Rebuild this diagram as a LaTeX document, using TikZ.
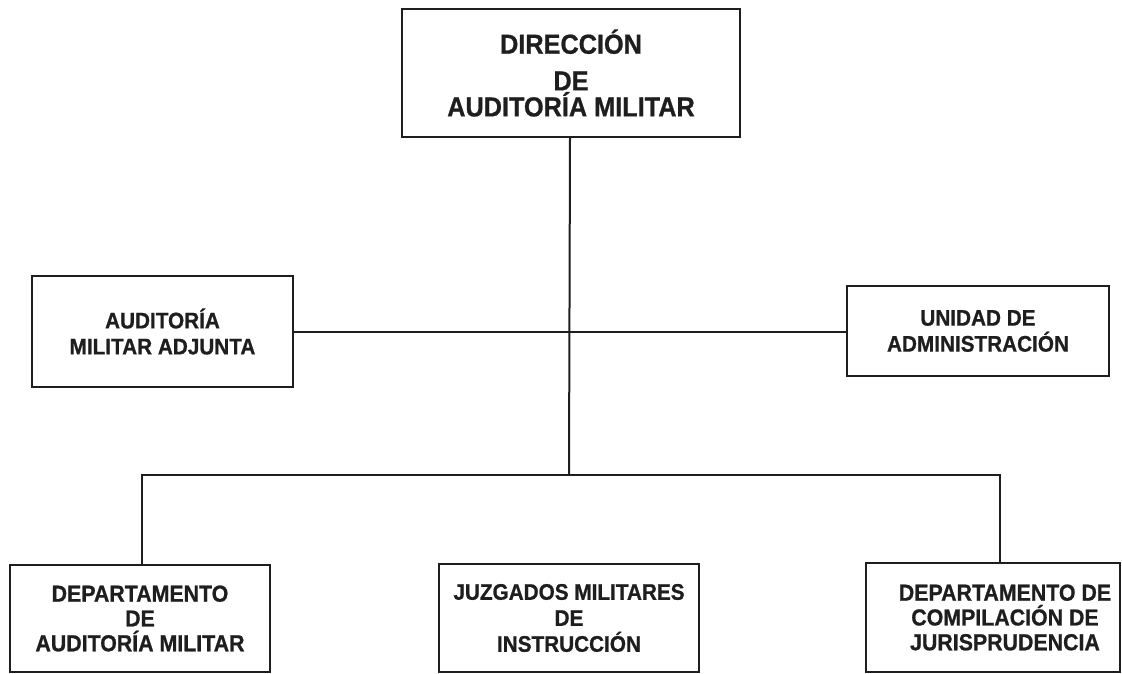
\documentclass[tikz,border=0pt]{standalone}
\usepackage{fontspec}
\setmainfont{Liberation Sans}[FakeStretch=0.92, BoldFeatures={FakeBold=0.8}]
\definecolor{ink}{HTML}{1E1E1E}
\tikzset{
  box/.style={draw=ink, line width=1.5pt, inner sep=0pt, align=center, text=ink, font=\bfseries\fontsize{17.4}{18.6}\selectfont},
  link/.style={draw=ink, line width=1.5pt}
}
\begin{document}
\begin{tikzpicture}[x=0.75pt,y=-0.75pt]
\useasboundingbox (0,0) rectangle (1122,674);
\fill[white] (0,0) rectangle (1122,674);
\node[box, minimum width=253.5pt, minimum height=96pt, font=\bfseries\fontsize{20.6}{19.5}\selectfont] (dir) at (571,73) {DIRECCIÓN\\[8pt]DE\\AUDITORÍA MILITAR};
\node[box, minimum width=195.75pt, minimum height=83.25pt, font=\bfseries\fontsize{16.9}{19.5}\selectfont] (ama) at (162.5,331.5) {AUDITORÍA\\MILITAR ADJUNTA};
\node[box, minimum width=196.5pt, minimum height=67.5pt, font=\bfseries\fontsize{16.9}{19.5}\selectfont] (ua) at (978,331) {UNIDAD DE\\ADMINISTRACIÓN};
\node[box, minimum width=195pt, minimum height=80.25pt] (dam) at (140,618.5) {DEPARTAMENTO\\DE\\AUDITORÍA MILITAR};
\node[box, minimum width=195pt, minimum height=81pt, font=\bfseries\fontsize{16.9}{19.5}\selectfont] (jmi) at (569,618) {JUZGADOS MILITARES\\DE\\INSTRUCCIÓN};
\node[box, minimum width=190.5pt, minimum height=81.75pt] (djc) at (993,617.5) {\hspace*{18pt}DEPARTAMENTO DE\\\hspace*{18pt}COMPILACIÓN DE\\\hspace*{18pt}JURISPRUDENCIA};
\coordinate (bus) at (570,475);
\coordinate (djcin) at (1000,563);
\draw[link] (dir.south -| bus) -- (bus -| jmi.north);
\draw[link] (ama.east) -- (ama.east -| ua.west);
\draw[link] (dam.north -| 142,0) |- (bus) -| (djcin);
\end{tikzpicture}
\end{document}
